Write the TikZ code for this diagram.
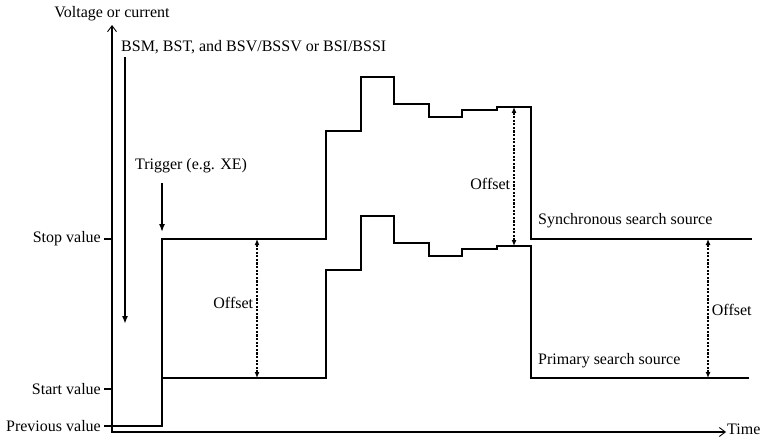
\documentclass[tikz,border=0pt]{standalone}
\usepackage{fontspec}
\setmainfont{Liberation Serif}
\usetikzlibrary{arrows.meta}

\begin{document}
\begin{tikzpicture}[x=1pt,y=1pt,
    lab/.style={font=\fontsize{16}{18}\selectfont,inner sep=0pt},
    axis/.style={line width=1.8pt,
      {Straight Barb[length=6pt,width=9pt,line width=0.9pt]}-{Straight Barb[length=6pt,width=9pt,line width=0.9pt]}},
    tickmark/.style={line width=1.8pt},
    wave/.style={line width=1.2pt},
    cmdarrow/.style={line width=1.8pt,-{Latex[length=8pt,width=6pt]}},
    offsetarrow/.style={line width=1.8pt,dash pattern=on 2.2pt off 1.4pt,
      {Latex[length=6pt,width=5pt]}-{Latex[length=6pt,width=5pt]}}]
  \useasboundingbox (0,0) rectangle (767,437);
  \def\off{139}
  % axes
  \coordinate (O) at (112,5);
  \coordinate (ytop) at (112,412);
  \coordinate (xend) at (726,5);
  \draw[axis] (ytop) -- (O) -- (xend);
  \node[lab] (vclab) at (112,423) {Voltage or current};
  \node[lab,anchor=base west] (timelab) at (727,2.5) {Time};
  % ticks on the value axis
  \foreach \y/\lab/\nm in {198/Stop value/stop,48/Start value/start,11/Previous value/prev} {
    \coordinate (\nm) at (104,\y);
    \draw[tickmark] (\nm) -- ++(8,0);
    \node[lab,anchor=east] (\nm lab) at ([xshift=-3pt]\nm) {\lab};
  }
  % primary search source
  \draw[wave] (112,11) -- (162,11) |- (326,59) |- (361,167) |- (394,221) |- (429,194)
    |- (462,181) |- (497,188) |- (531,191) |- (749,59);
  % synchronous search source (primary + offset)
  \draw[wave] (162,59) |- (326,59+\off) |- (361,167+\off) |- (394,221+\off) |- (429,194+\off)
    |- (462,181+\off) |- (497,188+\off) |- (531,191+\off) |- (752,59+\off);
  \node[lab,anchor=west] (synclab) at (538,216) {Synchronous search source};
  \node[lab,anchor=west] (primlab) at (538,76) {Primary search source};
  % commands and trigger
  \node[lab,anchor=west] (bsmlab) at (121,390) {BSM, BST, and BSV/BSSV or BSI/BSSI};
  \coordinate (bsmtop) at (125,380);
  \coordinate (bsmtip) at (125,113);
  \draw[cmdarrow] (bsmtop) -- (bsmtip);
  \node[lab] (triglab) at (191,271) {Trigger (e.g. XE)};
  \coordinate (trigtop) at (162,254);
  \coordinate (trigtip) at (162,205);
  \draw[cmdarrow,line width=1.5pt] (trigtop) -- (trigtip);
  % offset arrows
  \foreach \nm/\x/\yb/\p/\side in {offa/257/59/0.46/left,offb/514/191/0.55/left,offc/708/59/0.51/right} {
    \coordinate (\nm top) at (\x,\yb+\off);
    \coordinate (\nm bot) at (\x,\yb);
    \draw[offsetarrow] (\nm top) -- (\nm bot)
      node[lab,pos=\p,\side=3pt] (\nm lab) {Offset};
  }
\end{tikzpicture}
\end{document}
